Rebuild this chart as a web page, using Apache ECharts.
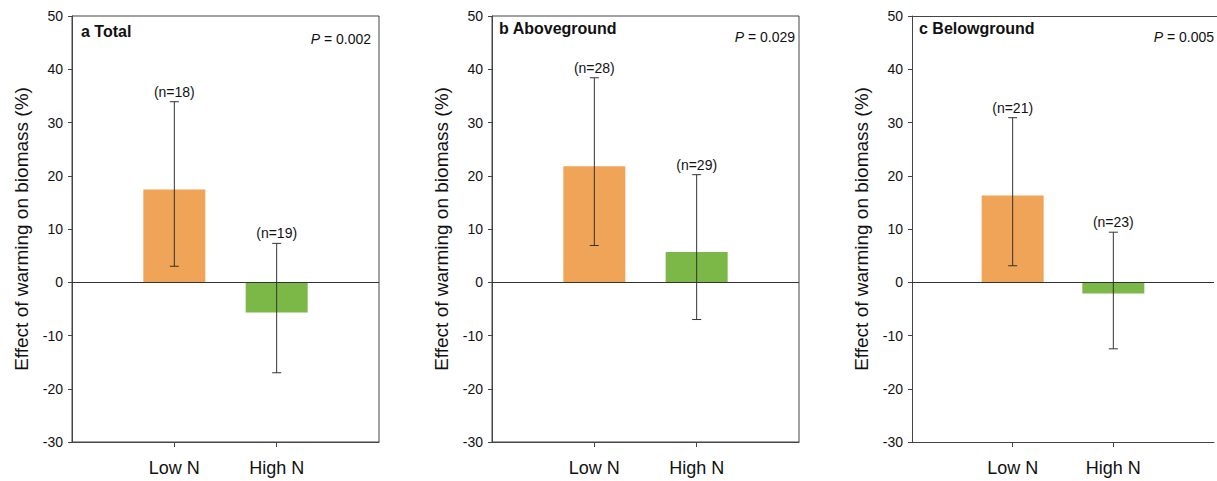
<!DOCTYPE html>
<html>
<head>
<meta charset="utf-8">
<script src="https://cdn.jsdelivr.net/npm/echarts@6/dist/echarts.min.js"></script>
<style>
html,body{margin:0;padding:0;background:#fff;overflow:hidden;}
#chart{width:1217px;height:481px;}
</style>
</head>
<body>
<div id="chart"></div>
<script>
// ---- data ----
const categories = ['', 'Low N', 'High N', ''];
const panelTitles = ['a Total', 'b Aboveground', 'c Belowground'];
const pValues = ['0.002', '0.029', '0.005'];
const meanLowN  = [17.4, 21.8, 16.3];
const meanHighN = [-5.7, 5.7, -2.1];
const ciLowLowN   = [3.0, 6.9, 3.1];
const ciHighLowN  = [33.9, 38.4, 30.9];
const ciLowHighN  = [-17.0, -7.0, -12.5];
const ciHighHighN = [7.3, 20.2, 9.4];
const nLowN  = [18, 28, 21];
const nHighN = [19, 29, 23];
const yTicks = { min: -30, max: 50, interval: 10 };
const yTitle = 'Effect of warming on biomass (%)';

// ---- layout ----
const gridLefts = [72, 492, 912];
const gridWidth = 307;
const gridTop = 16, gridHeight = 426;
const titleOffsets = [9, 7, 7];
const titleY = [32, 29, 29];
const pRightOffsets = [8, 4, 5];
const pY = [39, 37, 37];
const orange = '#EFA457';
const green = '#7BB848';
const axisColor = '#444';
const textColor = '#111';
const fontFamily = '"Liberation Sans", Arial, Helvetica, sans-serif';

const grids = [], xAxes = [], yAxes = [], series = [], graphics = [];
for (let p = 0; p < 3; p++) {
  const clipped = (p === 2);
  grids.push({ left: gridLefts[p], top: gridTop, width: gridWidth, height: gridHeight,
    show: !clipped, borderColor: axisColor, borderWidth: 1, backgroundColor: 'transparent' });
  xAxes.push({
    type: 'category', gridIndex: p, data: categories, boundaryGap: false,
    axisLine: { onZero: false, lineStyle: { color: axisColor, width: 1 } },
    axisTick: { show: true, length: 5, inside: false, interval: (i) => i === 1 || i === 2,
      lineStyle: { color: axisColor } },
    axisLabel: { interval: 0, margin: 17, fontSize: 18, color: textColor, fontFamily: fontFamily },
    splitLine: { show: false }
  });
  yAxes.push({
    type: 'value', gridIndex: p, min: yTicks.min, max: yTicks.max, interval: yTicks.interval,
    name: yTitle, nameLocation: 'middle', nameGap: 41,
    nameTextStyle: { fontSize: 19, color: textColor, fontFamily: fontFamily },
    axisLine: { show: true, lineStyle: { color: axisColor, width: 1 } },
    axisTick: { show: true, length: 4, lineStyle: { color: axisColor } },
    axisLabel: { margin: 9, fontSize: 14, color: textColor, fontFamily: fontFamily },
    splitLine: { show: false }
  });
  series.push({
    type: 'bar', xAxisIndex: p, yAxisIndex: p, barWidth: 62, barGap: '-100%',
    data: [null,
      { value: meanLowN[p], itemStyle: { color: orange } },
      { value: meanHighN[p], itemStyle: { color: green } },
      null],
    markLine: { silent: true, symbol: 'none', label: { show: false },
      lineStyle: { color: '#333', width: 1, type: 'solid' },
      data: [{ yAxis: 0 }] },
    z: 2
  });
  series.push({
    type: 'custom', xAxisIndex: p, yAxisIndex: p, z: 5,
    encode: { x: 0, y: [1, 2] },
    data: [[1, ciLowLowN[p], ciHighLowN[p], nLowN[p]], [2, ciLowHighN[p], ciHighHighN[p], nHighN[p]]],
    renderItem: function (params, api) {
      const x = api.value(0);
      const lo = api.coord([x, api.value(1)]);
      const hi = api.coord([x, api.value(2)]);
      const cx = lo[0], hw = 4.5;
      const st = { stroke: '#333', lineWidth: 1 };
      return { type: 'group', children: [
        { type: 'line', shape: { x1: cx, y1: hi[1], x2: cx, y2: lo[1] }, style: st },
        { type: 'line', shape: { x1: cx - hw, y1: hi[1], x2: cx + hw, y2: hi[1] }, style: st },
        { type: 'line', shape: { x1: cx - hw, y1: lo[1], x2: cx + hw, y2: lo[1] }, style: st },
        { type: 'text', x: cx, y: hi[1] - 3, style: { text: '(n=' + api.value(3) + ')',
          textAlign: 'center', textVerticalAlign: 'bottom', fontSize: 14, fill: textColor,
          fontFamily: fontFamily } }
      ] };
    }
  });
  if (clipped) {
    // top frame line of the last panel, running off the right edge of the picture
    graphics.push({ type: 'line', shape: { x1: gridLefts[p], y1: gridTop + 0.5, x2: 1217, y2: gridTop + 0.5 },
      style: { stroke: axisColor, lineWidth: 1 } });
  }
  graphics.push({ type: 'text', left: gridLefts[p] + titleOffsets[p], top: titleY[p] - 9,
    style: { text: panelTitles[p], fontSize: 16, fontWeight: 'bold', fill: textColor, fontFamily: fontFamily } });
  graphics.push({ type: 'text', x: gridLefts[p] + gridWidth - pRightOffsets[p], y: pY[p],
    style: { text: '{i|P} = ' + pValues[p], textAlign: 'right', textVerticalAlign: 'middle',
      fontSize: 14, fill: textColor, fontFamily: fontFamily,
      rich: { i: { fontStyle: 'italic', fontSize: 14, fill: textColor, fontFamily: fontFamily } } } });
}

const chart = echarts.init(document.getElementById('chart'), null, { renderer: 'svg' });
chart.setOption({
  animation: false,
  backgroundColor: '#fff',
  grid: grids, xAxis: xAxes, yAxis: yAxes, series: series, graphic: graphics
});
</script>
</body>
</html>
